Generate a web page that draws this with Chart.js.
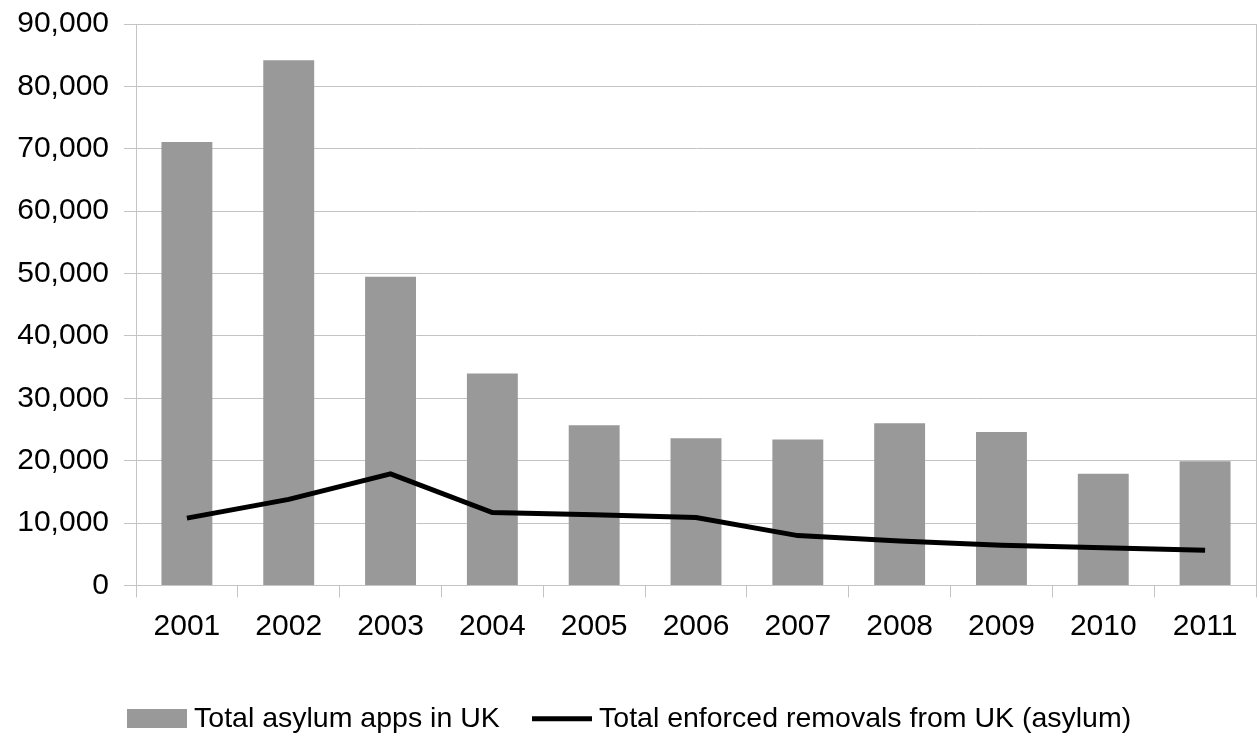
<!DOCTYPE html>
<html>
<head>
<meta charset="utf-8">
<title>UK asylum applications and enforced removals</title>
<script src="https://cdn.jsdelivr.net/npm/chart.js@4.4.1/dist/chart.umd.min.js"></script>
<style>
  html, body { margin: 0; padding: 0; background: #fff; }
  #wrap { width: 1259px; height: 736px; position: relative; }
</style>
</head>
<body>
<div id="wrap"><canvas id="chart"></canvas></div>
<script>
const years = ['2001', '2002', '2003', '2004', '2005', '2006', '2007', '2008', '2009', '2010', '2011'];
const asylumApps = [71100, 84200, 49500, 34000, 25700, 23600, 23400, 26000, 24600, 17900, 19900];
const enforcedRemovals = [10800, 13800, 17900, 11700, 11350, 10900, 8000, 7150, 6450, 6050, 5650];
const yMax = 90000;
const yStep = 10000;

const barColor = '#999999';
const gridColor = '#c4c4c4';
const fontFamily = '"Liberation Sans", Arial, Helvetica, sans-serif';

// legend swatches, a bit wider than the space the legend reserves for them
function swatch(w, h, draw) {
  const c = document.createElement('canvas');
  c.width = w;
  c.height = h;
  draw(c.getContext('2d'));
  return c;
}
const barSwatch = swatch(60, 19, ctx => {
  ctx.fillStyle = barColor;
  ctx.fillRect(0, 0, 60, 19);
});
const lineSwatch = swatch(60, 19, ctx => {
  ctx.fillStyle = '#000';
  ctx.fillRect(0, 7, 60, 5);
});

new Chart(document.getElementById('chart'), {
  data: {
    labels: years,
    datasets: [
      {
        type: 'line',
        label: 'Total enforced removals from UK (asylum)',
        data: enforcedRemovals,
        borderColor: '#000',
        backgroundColor: '#000',
        borderWidth: 5,
        pointRadius: 0,
        tension: 0,
        order: 0
      },
      {
        type: 'bar',
        label: 'Total asylum apps in UK',
        data: asylumApps,
        backgroundColor: barColor,
        borderWidth: 0,
        categoryPercentage: 1,
        barPercentage: 0.5,
        order: 1
      }
    ]
  },
  options: {
    responsive: true,
    maintainAspectRatio: false,
    animation: false,
    devicePixelRatio: 1,
    layout: { padding: { top: 24, left: 8, right: 2, bottom: -7 } },
    scales: {
      x: {
        offset: true,
        grid: {
          offset: true,
          drawOnChartArea: false,
          drawTicks: true,
          tickLength: 12,
          color: gridColor
        },
        border: { display: true, color: gridColor },
        ticks: {
          color: '#000',
          font: { family: fontFamily, size: 30 },
          padding: 11,
          maxRotation: 0
        },
        afterFit: scale => { scale.height = 80; }
      },
      y: {
        min: 0,
        max: yMax,
        grid: { color: gridColor, tickLength: 12 },
        border: { display: true, color: gridColor },
        ticks: {
          stepSize: yStep,
          color: '#000',
          font: { family: fontFamily, size: 30 },
          padding: 15,
          callback: v => v.toLocaleString('en-US')
        },
        afterFit: scale => {
          scale.width = 128;
          scale.paddingTop = 0; // top label may sit above the plot edge
        }
      },
      yRight: {
        position: 'right',
        min: 0,
        max: yMax,
        grid: { drawOnChartArea: false, drawTicks: false },
        border: { display: true, color: gridColor },
        ticks: { display: false },
        afterFit: scale => { scale.width = 1; }
      }
    },
    plugins: {
      tooltip: { enabled: false },
      legend: {
        position: 'bottom',
        reverse: true,
        labels: {
          color: '#000',
          font: { family: fontFamily, size: 28.5 },
          usePointStyle: true,
          pointStyleWidth: 46,
          boxHeight: 19,
          padding: 39,
          generateLabels: chart => {
            const items = Chart.defaults.plugins.legend.labels.generateLabels(chart);
            items.forEach(item => {
              item.pointStyle = item.datasetIndex === 1 ? barSwatch : lineSwatch;
              item.lineWidth = 0;
            });
            return items;
          }
        }
      }
    }
  }
});
</script>
</body>
</html>
